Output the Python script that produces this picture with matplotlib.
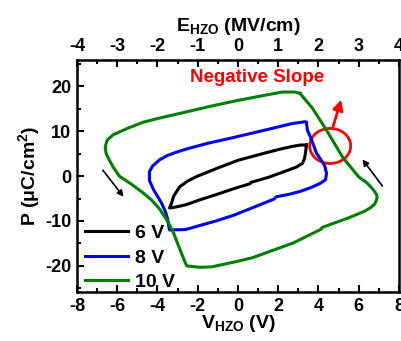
import matplotlib
matplotlib.use('Agg')
import matplotlib.pyplot as plt
from matplotlib.patches import Ellipse
from matplotlib.ticker import MultipleLocator

plt.rcParams['font.family'] = ['Liberation Sans', 'DejaVu Sans']
plt.rcParams['font.weight'] = 'bold'
plt.rcParams['axes.unicode_minus'] = False
plt.rcParams['mathtext.fontset'] = 'custom'
plt.rcParams['mathtext.rm'] = 'Liberation Sans:bold'
plt.rcParams['mathtext.bf'] = 'Liberation Sans:bold'
plt.rcParams['mathtext.it'] = 'Liberation Sans:bold'

# 6 V loop (V, P)
v6 = [3.4, 3.35, 3.3, 3.2, 2.9, 2.3, 1.5, 0.65, 0.6, -0.2, -1.0, -1.9, -2.6, -3.1, -3.4,
      -3.3, -3.2, -2.9, -2.5, -2.0, -1.0, 0.0, 1.4, 2.2, 2.7, 3.1, 3.4]
p6 = [6.9, 5.0, 3.8, 2.8, 2.0, 1.0, -0.3, -1.4, -1.7, -2.8, -4.0, -5.3, -6.4, -6.9, -7.1,
      -6.0, -4.5, -2.4, -1.1, 0.0, 1.8, 3.5, 5.2, 6.1, 6.6, 6.9, 6.9]

# 8 V loop
v8 = [3.4, 3.45, 3.6, 3.9, 4.3, 4.4, 4.35, 4.1, 3.6, 3.1, 2.5, 1.9, 1.8, 0.8, -0.2, -1.1, -1.9, -2.6, -3.4,
      -3.45, -3.5, -3.6, -3.8, -4.2, -4.4, -4.4, -4.25, -3.9, -3.5, -3.0, -2.5, -1.5, -0.2, 1.5, 2.7, 3.35, 3.4]
p8 = [11.9, 10.2, 8.7, 5.1, 2.4, 0.6, -0.8, -1.6, -2.6, -3.4, -4.1, -4.6, -5.1, -6.9, -8.7, -10.0, -11.0, -11.9, -12.0,
      -11.0, -9.5, -8.0, -6.0, -3.0, -1.0, 1.0, 2.2, 3.6, 4.6, 5.4, 6.1, 7.3, 8.6, 10.4, 11.7, 12.1, 11.9]

# 10 V loop
v10 = [3.08, 3.7, 4.4, 5.2, 6.0, 6.4, 6.7, 6.9, 6.9, 6.8, 6.6, 6.3, 5.5, 4.2, 4.1, 2.74, 1.5, 0.7, -0.15,
       -1.3, -1.9, -2.54, -2.6, -2.7, -3.0, -3.2, -3.5, -3.9, -4.3, -4.7, -5.3, -5.9, -6.2, -6.4, -6.55,
       -6.6, -6.5, -6.2, -5.5, -4.7, -3.9, -2.64, -1.4, -0.15, 1.0, 2.2, 2.8, 3.08]
p10 = [18.4, 15.1, 10.2, 4.2, -0.2, -1.5, -2.9, -4.2, -5.1, -6.2, -7.0, -7.8, -9.3, -11.4, -11.9, -14.9, -16.9,
       -18.2, -19.1, -20.2, -20.3, -20.0, -19.5, -18.4, -15.0, -12.7, -10.0, -7.3, -5.3, -3.8, -1.8, 0.0, 2.0,
       3.6, 5.0, 6.5, 8.0, 9.2, 10.6, 12.0, 12.9, 14.2, 15.5, 16.7, 17.7, 18.7, 18.7, 18.4]

fig = plt.figure(figsize=(4.02, 3.41), dpi=100)
ax = fig.add_axes([0.1915, 0.1437, 0.801, 0.680])

ax.plot(v6, p6, color='black', lw=2.2, label='6 V')
ax.plot(v8, p8, color='blue', lw=2.2, label='8 V')
ax.plot(v10, p10, color='green', lw=2.2, label='10 V')

ax.set_xlim(-8, 8)
ax.set_ylim(-25.8, 25.8)
ax.xaxis.set_major_locator(MultipleLocator(2))
ax.xaxis.set_minor_locator(MultipleLocator(1))
ax.yaxis.set_major_locator(MultipleLocator(10))
ax.yaxis.set_minor_locator(MultipleLocator(5))
ax.tick_params(which='both', direction='in', width=1.5, labelsize=13, pad=4)
ax.tick_params(which='major', length=5)
ax.tick_params(which='minor', length=3)
for s in ax.spines.values():
    s.set_linewidth(1.8)

ax.set_xlabel(r'V$_{\mathbf{HZO}}$ (V)', fontsize=14, fontweight='bold', labelpad=-1)
ax.set_ylabel(r'P ($\mathbf{\mu}$C/cm$^{\mathbf{2}}$)', fontsize=14, fontweight='bold', labelpad=2)

top = ax.secondary_xaxis('top', functions=(lambda v: v / 2, lambda e: e * 2))
top.xaxis.set_major_locator(MultipleLocator(1))
top.xaxis.set_minor_locator(MultipleLocator(0.5))
top.tick_params(which='both', direction='in', width=1.5, labelsize=13, pad=4)
top.tick_params(which='major', length=5)
top.tick_params(which='minor', length=3)
top.set_xlabel(r'E$_{\mathbf{HZO}}$ (MV/cm)', fontsize=14, fontweight='bold', labelpad=5)

for lbl in ax.get_xticklabels() + ax.get_yticklabels() + top.xaxis.get_ticklabels():
    lbl.set_fontweight('bold')

# arrows showing sweep direction
ax.annotate('', xy=(-5.6, -5.1), xytext=(-6.8, 1.8),
            arrowprops=dict(arrowstyle='-|>', color='black', lw=1.2, mutation_scale=9))
ax.annotate('', xy=(6.1, 4.2), xytext=(7.26, -2.7),
            arrowprops=dict(arrowstyle='-|>', color='black', lw=1.2, mutation_scale=9))

# negative slope highlight
ax.add_patch(Ellipse((4.58, 6.7), 2.04, 7.8, fill=False, edgecolor='red', lw=2))
ax.annotate('', xy=(5.17, 17.6), xytext=(4.68, 10.4),
            arrowprops=dict(arrowstyle='-|>', color='red', lw=2, mutation_scale=15))
ax.text(0.95, 21.9, 'Negative Slope', color='red', fontsize=13.5, fontweight='bold',
        ha='center', va='center')

ax.legend(loc='lower left', bbox_to_anchor=(0.012, -0.013), frameon=False,
          prop={'size': 14, 'weight': 'bold'}, handlelength=2.2,
          handletextpad=0.4, labelspacing=0.35, borderaxespad=0, borderpad=0.2)

fig.savefig('out.png', dpi=100)
